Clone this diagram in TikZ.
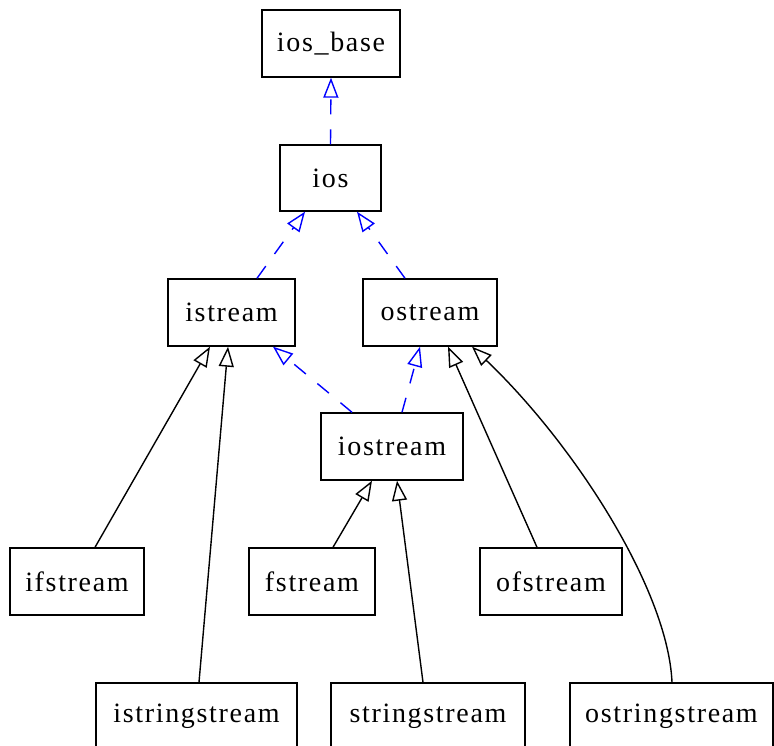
\documentclass[tikz,border=0pt]{standalone}
\usepackage{fontspec}
\setmainfont[LetterSpace=6]{Liberation Serif}
\usetikzlibrary{arrows.meta}
\begin{document}
\begin{tikzpicture}[x=1pt,y=-1pt,
  cls/.style={draw=black, line width=1.4pt, minimum height=67pt, inner sep=0pt,
    font=\fontsize{28}{34}\selectfont},
  inherit/.style={draw=black, line width=1.4pt,
    -{Triangle[open, length=20pt, width=15pt, line width=1.4pt]}},
  vinherit/.style={draw=blue, line width=1.4pt, dash pattern=on 15pt off 15pt,
    -{Triangle[open, length=20pt, width=15pt, line width=1.4pt]}}]
\useasboundingbox (0,0) rectangle (774,746);
% class boxes
\node[cls, minimum width=138pt] (iosbase) at (331,43.5) {ios\_base};
\node[cls, minimum width=101pt, minimum height=66pt] (ios) at (330.5,178) {ios};
\node[cls, minimum width=127pt] (istream) at (231.5,312.5) {istream};
\node[cls, minimum width=134pt] (ostream) at (430,312.5) {ostream};
\node[cls, minimum width=142pt] (iostream) at (392,446.5) {iostream};
\node[cls, minimum width=134pt] (ifstream) at (77,581.5) {ifstream};
\node[cls, minimum width=126pt] (fstream) at (312,581.5) {fstream};
\node[cls, minimum width=142pt] (ofstream) at (551,581.5) {ofstream};
\node[cls, minimum width=201pt] (istringstream) at (196.5,716.5) {istringstream};
\node[cls, minimum width=194pt] (stringstream) at (428,716.5) {stringstream};
\node[cls, minimum width=203pt] (ostringstream) at (671.5,716.5) {ostringstream};
% virtual inheritance
\draw[vinherit] (ios.north) -- (iosbase.south);
\draw[vinherit] ([xshift=25.5pt]istream.north) -- ([xshift=-25.5pt]ios.south);
\draw[vinherit] ([xshift=-25pt]ostream.north) -- ([xshift=26.5pt]ios.south);
\draw[vinherit] ([xshift=-40pt]iostream.north) -- ([xshift=41.5pt]istream.south);
\draw[vinherit] ([xshift=10pt]iostream.north) -- ([xshift=-10pt]ostream.south);
% plain inheritance
\draw[inherit] ([xshift=18pt]ifstream.north) -- ([xshift=-21.5pt]istream.south);
\draw[inherit] ([xshift=2.5pt]istringstream.north) -- ([xshift=-3.5pt]istream.south);
\draw[inherit] ([xshift=21pt]fstream.north) -- ([xshift=-20pt]iostream.south);
\draw[inherit] ([xshift=-5pt]stringstream.north) -- ([xshift=5pt]iostream.south);
\draw[inherit] ([xshift=-14pt]ofstream.north) -- ([xshift=18pt]ostream.south);
\draw[inherit] ([xshift=0.5pt]ostringstream.north) .. controls (668,590) and (575,445) .. ([xshift=42pt]ostream.south);
\end{tikzpicture}
\end{document}
